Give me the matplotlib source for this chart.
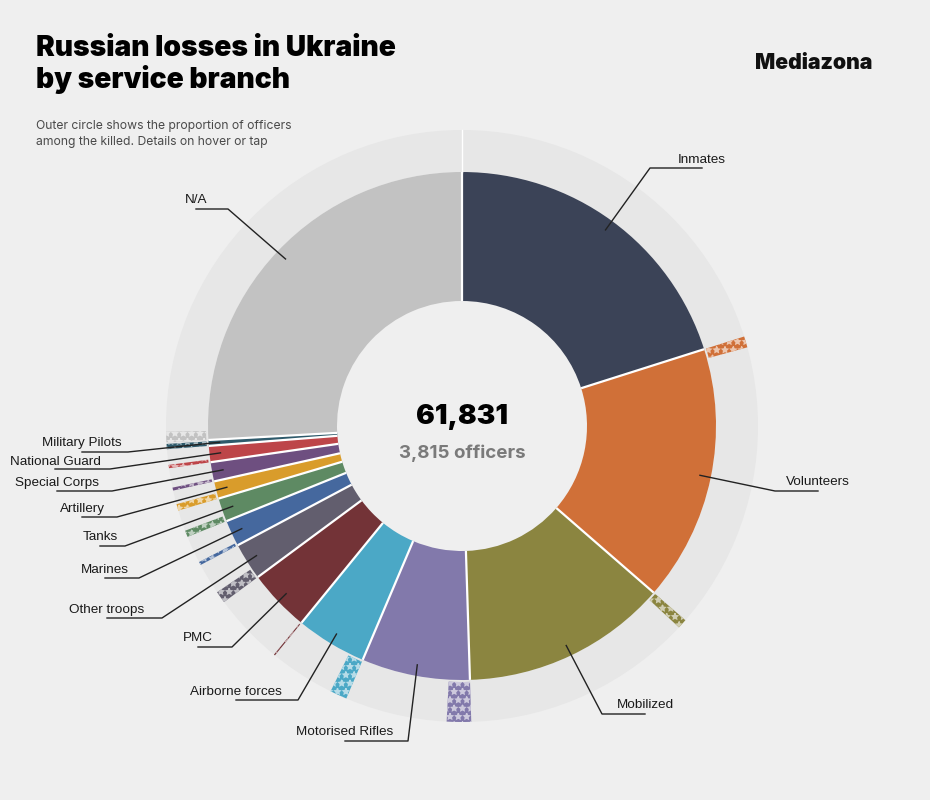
import numpy as np
import matplotlib.pyplot as plt

# branches in clockwise order starting from 12 o'clock
branches = ["Inmates", "Volunteers", "Mobilized", "Motorised Rifles", "Airborne forces",
            "PMC", "Other troops", "Marines", "Tanks", "Artillery", "Special Corps",
            "National Guard", "Military Pilots", "N/A"]
killed = [12435, 10065, 8107, 4260, 2782, 2456, 1460, 1030, 927, 687, 756, 636, 230, 16000]
officers = [0, 375, 320, 820, 575, 40, 400, 110, 220, 220, 100, 110, 175, 350]
colors = ["#3b4357", "#d07038", "#8b8540", "#8279ab", "#4ba8c6", "#733337", "#625e6e",
          "#45689e", "#5e8a63", "#d99c2b", "#6e4f80", "#bd4549", "#2e5a6b", "#c2c2c2"]

# label layout: text centre x, text centre y, elbow x, underline y
label_layout = {
    "Inmates":          (702, 160, 650, 168),
    "Volunteers":       (818, 482, 775, 491),
    "Mobilized":        (645, 705, 602, 714),
    "Motorised Rifles": (345, 732, 408, 741),
    "Airborne forces":  (236, 692, 298, 700),
    "PMC":              (198, 638, 232, 647),
    "Other troops":     (107, 610, 162, 618),
    "Marines":          (105, 570, 139, 578),
    "Tanks":            (100, 537, 125, 546),
    "Artillery":        (82, 509, 117, 517),
    "Special Corps":    (57, 483, 112, 491),
    "National Guard":   (55, 462, 110, 469),
    "Military Pilots":  (82, 443, 128, 452),
    "N/A":              (196, 200, 228, 209),
}

BG = "#efefef"
cx, cy = 462, 426
r_in, r_out = 125, 254
r_ring = 296

fig = plt.figure(figsize=(9.3, 8), dpi=100, facecolor=BG)
ax = fig.add_axes([0, 0, 1, 1])
ax.set_facecolor(BG)

# grey background ring
ax.pie([1], radius=r_ring, center=(cx, cy), colors=["#e7e7e7"],
       wedgeprops=dict(width=r_ring - r_out, linewidth=0), frame=True)

# main ring (y axis is flipped, so startangle=-90 is 12 o'clock and ccw is clockwise on screen)
wedges, _ = ax.pie(killed, radius=r_out, center=(cx, cy), colors=colors,
                   startangle=-90, counterclock=True,
                   wedgeprops=dict(width=r_out - r_in, linewidth=0), frame=True)

# officers ring: officer share at the start of each branch
ring_vals = []
for k, o in zip(killed, officers):
    ring_vals += [o, k - o]
owedges, _ = ax.pie(ring_vals, radius=r_ring, center=(cx, cy), startangle=-90,
                    counterclock=True, wedgeprops=dict(width=r_ring - r_out - 2, linewidth=0),
                    frame=True)
for i, w in enumerate(owedges):
    if i % 2 == 1 or ring_vals[i] == 0:
        w.set_visible(False)
        continue
    c = np.array(plt.matplotlib.colors.to_rgb(colors[i // 2]))
    w.set_facecolor(c)
    w.set_edgecolor(c + (1 - c) * 0.6)
    w.set_linewidth(0)
    w.set_hatch("**")

# white separators between branches
for w in wedges:
    a = np.deg2rad(w.theta1)
    ax.plot([cx + r_in * np.cos(a), cx + r_out * np.cos(a)],
            [cy + r_in * np.sin(a), cy + r_out * np.sin(a)],
            color="white", lw=1.6, solid_capstyle="butt", zorder=3)
ax.plot([cx, cx], [cy - r_out, cy - r_ring], color="white", lw=1, zorder=3)

# leader lines and labels
lab_font = dict(family=["Liberation Sans", "DejaVu Sans"], fontsize=9.7, color="#1a1a1a")
for w, name in zip(wedges, branches):
    mid = np.deg2rad((w.theta1 + w.theta2) / 2)
    axp, ayp = cx + 243 * np.cos(mid), cy + 243 * np.sin(mid)
    tx, ty, ex, ly = label_layout[name]
    ax.plot([axp, ex, tx], [ayp, ly, ly], color="#222222", lw=1, zorder=4)
    ax.text(tx, ty, name, ha="center", va="center", **lab_font, zorder=5)

# centre totals
ax.text(cx, 417, f"{sum(killed):,}", ha="center", va="center",
        family=["Inter", "DejaVu Sans"], fontweight="black", fontsize=20, color="black")
ax.text(cx, 453, f"{sum(officers):,} officers", ha="center", va="center",
        family=["Inter", "DejaVu Sans"], fontweight="bold", fontsize=13.5, color="#7a7a7a")

# titles
ax.text(36, 48, "Russian losses in Ukraine", ha="left", va="center",
        family=["Inter", "DejaVu Sans"], fontweight="black", fontsize=20.3, color="black")
ax.text(36, 80, "by service branch", ha="left", va="center",
        family=["Inter", "DejaVu Sans"], fontweight="black", fontsize=20.3, color="black")
ax.text(36, 126, "Outer circle shows the proportion of officers", ha="left", va="center",
        family=["Inter", "DejaVu Sans"], fontsize=8.75, color="#4a4a4a")
ax.text(36, 142, "among the killed. Details on hover or tap", ha="left", va="center",
        family=["Inter", "DejaVu Sans"], fontsize=8.75, color="#4a4a4a")
ax.text(872, 63, "Mediazona", ha="right", va="center",
        family=["Inter", "DejaVu Sans"], fontweight="black", fontsize=15.3, color="#111111")

ax.set_xlim(0, 930)
ax.set_ylim(800, 0)
ax.set_aspect("auto")
ax.axis("off")

fig.savefig("out.png", dpi=100, facecolor=BG)
